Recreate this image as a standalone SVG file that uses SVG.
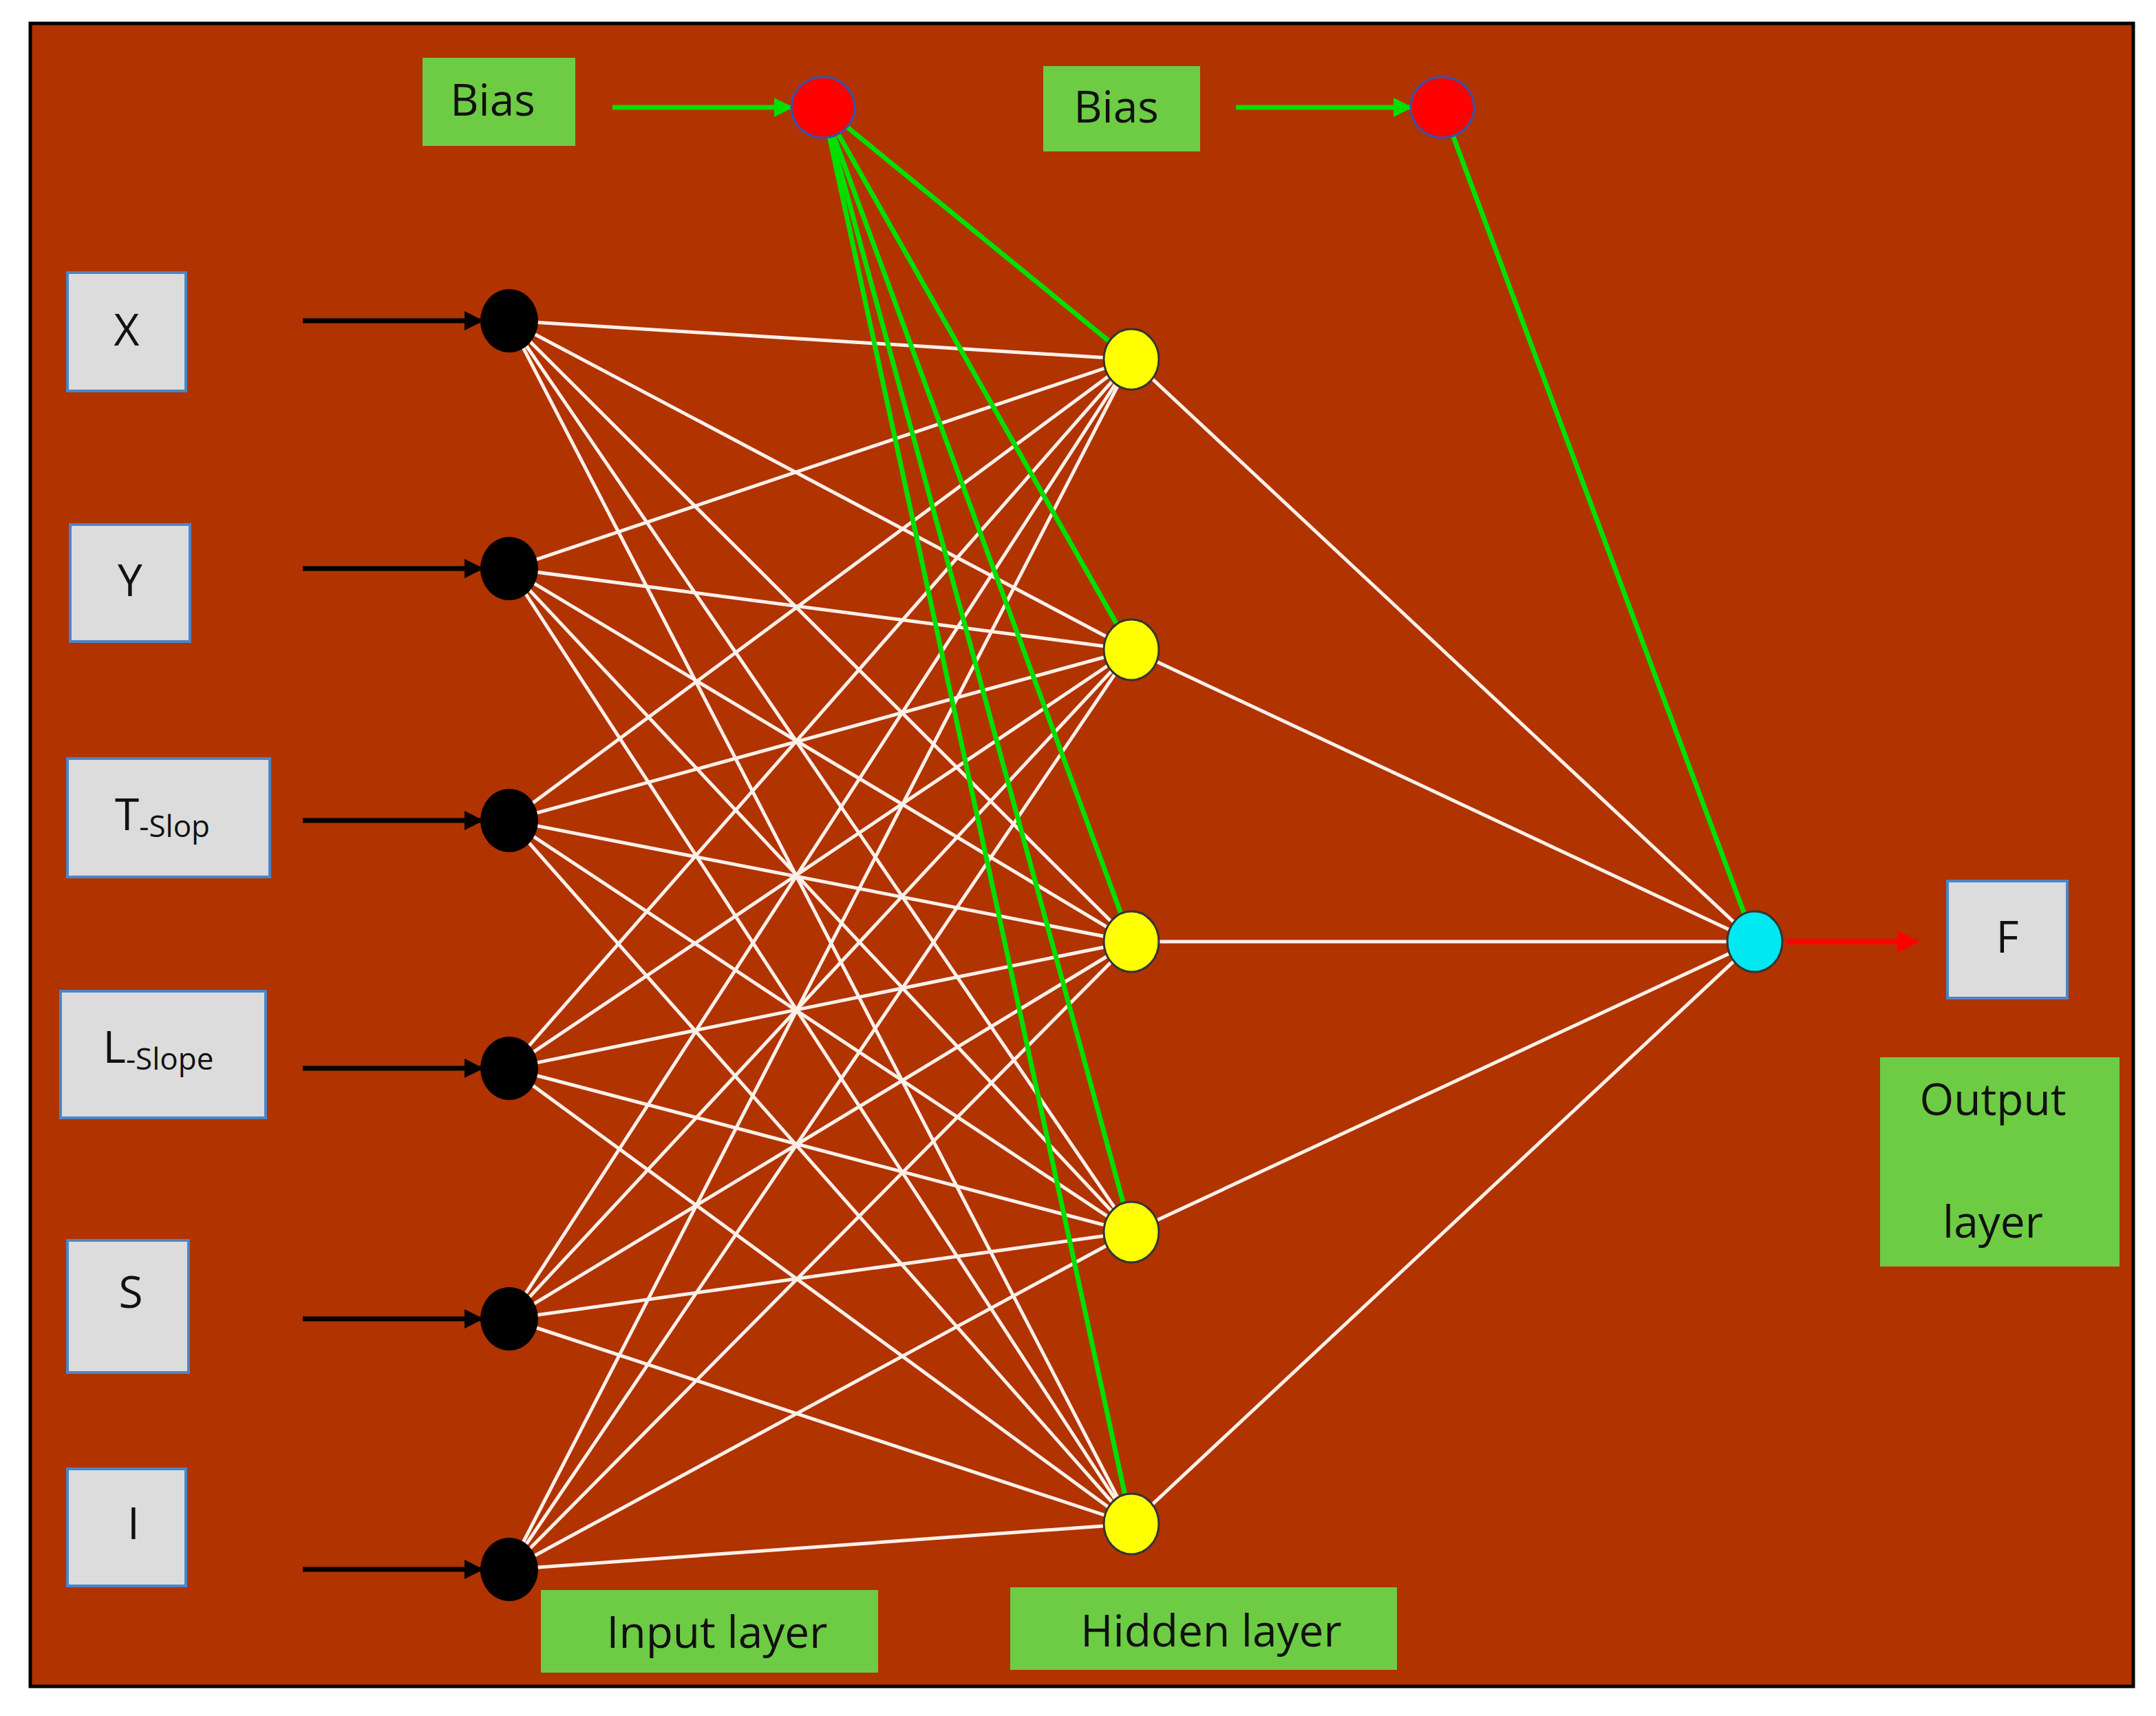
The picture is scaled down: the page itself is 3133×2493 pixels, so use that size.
<svg xmlns="http://www.w3.org/2000/svg" width="3133" height="2493" viewBox="0 0 3133 2493">
<defs>
<style>
.w{stroke:#fdf0e8;stroke-width:5}
.g{stroke:#00e000;stroke-width:7}
.k{stroke:#000;stroke-width:7}
.box{fill:#dcdcdc;stroke:#4a86c8;stroke-width:4}
.gb{fill:#6dcc44}
.t{font-family:"Open Sans","DejaVu Sans",sans-serif;font-size:64px;fill:#111;text-anchor:middle}
.s{font-size:44px}
.in{fill:#000}
.hid{fill:#ffff00;stroke:#333;stroke-width:3}
</style>
<marker id="ak" viewBox="0 0 10 10" refX="9" refY="5" markerWidth="4" markerHeight="4" orient="auto"><path d="M0,0L10,5L0,10z" fill="#000"/></marker>
<marker id="ag" viewBox="0 0 10 10" refX="9" refY="5" markerWidth="4" markerHeight="4" orient="auto"><path d="M0,0L10,5L0,10z" fill="#00e000"/></marker>
<marker id="ar" viewBox="0 0 10 10" refX="9" refY="5" markerWidth="4" markerHeight="4" orient="auto"><path d="M0,0L10,5L0,10z" fill="#ff0000"/></marker>
</defs>
<rect x="0" y="0" width="3133" height="2493" fill="#fff"/>
<rect x="44" y="34" width="3056" height="2416" fill="#b03300" stroke="#000" stroke-width="5"/>
<g id="connectors">
<g class="w">
<line x1="740" y1="466" x2="1644" y2="522"/><line x1="740" y1="466" x2="1644" y2="944"/><line x1="740" y1="466" x2="1644" y2="1368"/><line x1="740" y1="466" x2="1644" y2="1790"/><line x1="740" y1="466" x2="1644" y2="2214"/>
<line x1="740" y1="826" x2="1644" y2="522"/><line x1="740" y1="826" x2="1644" y2="944"/><line x1="740" y1="826" x2="1644" y2="1368"/><line x1="740" y1="826" x2="1644" y2="1790"/><line x1="740" y1="826" x2="1644" y2="2214"/>
<line x1="740" y1="1192" x2="1644" y2="522"/><line x1="740" y1="1192" x2="1644" y2="944"/><line x1="740" y1="1192" x2="1644" y2="1368"/><line x1="740" y1="1192" x2="1644" y2="1790"/><line x1="740" y1="1192" x2="1644" y2="2214"/>
<line x1="740" y1="1552" x2="1644" y2="522"/><line x1="740" y1="1552" x2="1644" y2="944"/><line x1="740" y1="1552" x2="1644" y2="1368"/><line x1="740" y1="1552" x2="1644" y2="1790"/><line x1="740" y1="1552" x2="1644" y2="2214"/>
<line x1="740" y1="1916" x2="1644" y2="522"/><line x1="740" y1="1916" x2="1644" y2="944"/><line x1="740" y1="1916" x2="1644" y2="1368"/><line x1="740" y1="1916" x2="1644" y2="1790"/><line x1="740" y1="1916" x2="1644" y2="2214"/>
<line x1="740" y1="2280" x2="1644" y2="522"/><line x1="740" y1="2280" x2="1644" y2="944"/><line x1="740" y1="2280" x2="1644" y2="1368"/><line x1="740" y1="2280" x2="1644" y2="1790"/><line x1="740" y1="2280" x2="1644" y2="2214"/>
<line x1="1644" y1="522" x2="2550" y2="1368"/><line x1="1644" y1="944" x2="2550" y2="1368"/><line x1="1644" y1="1368" x2="2550" y2="1368"/><line x1="1644" y1="1790" x2="2550" y2="1368"/><line x1="1644" y1="2214" x2="2550" y2="1368"/>
</g>
<g class="g">
<line x1="1196" y1="156" x2="1644" y2="522"/><line x1="1196" y1="156" x2="1644" y2="944"/><line x1="1196" y1="156" x2="1644" y2="1368"/><line x1="1196" y1="156" x2="1644" y2="1790"/><line x1="1196" y1="156" x2="1644" y2="2214"/>
<line x1="2096" y1="156" x2="2550" y2="1368"/>
<line x1="890" y1="156" x2="1150" y2="156" marker-end="url(#ag)"/>
<line x1="1796" y1="156" x2="2050" y2="156" marker-end="url(#ag)"/>
</g>
<g class="k">
<line x1="440" y1="466" x2="700" y2="466" marker-end="url(#ak)"/><line x1="440" y1="826" x2="700" y2="826" marker-end="url(#ak)"/><line x1="440" y1="1192" x2="700" y2="1192" marker-end="url(#ak)"/><line x1="440" y1="1552" x2="700" y2="1552" marker-end="url(#ak)"/><line x1="440" y1="1916" x2="700" y2="1916" marker-end="url(#ak)"/><line x1="440" y1="2280" x2="700" y2="2280" marker-end="url(#ak)"/>
</g>
<line x1="2596" y1="1368" x2="2786" y2="1368" stroke="#ff0000" stroke-width="8" marker-end="url(#ar)"/>
</g>
<g id="input-nodes" class="in">
<ellipse cx="740" cy="466" rx="42" ry="46"/><ellipse cx="740" cy="826" rx="42" ry="46"/><ellipse cx="740" cy="1192" rx="42" ry="46"/><ellipse cx="740" cy="1552" rx="42" ry="46"/><ellipse cx="740" cy="1916" rx="42" ry="46"/><ellipse cx="740" cy="2280" rx="42" ry="46"/>
</g>
<g id="hidden-nodes" class="hid">
<ellipse cx="1644" cy="522" rx="40" ry="44"/><ellipse cx="1644" cy="944" rx="40" ry="44"/><ellipse cx="1644" cy="1368" rx="40" ry="44"/><ellipse cx="1644" cy="1790" rx="40" ry="44"/><ellipse cx="1644" cy="2214" rx="40" ry="44"/>
</g>
<g id="bias-nodes"><ellipse cx="1196" cy="156" rx="46" ry="44" fill="#ff0000" stroke="#3355aa" stroke-width="3"/><ellipse cx="2096" cy="156" rx="46" ry="44" fill="#ff0000" stroke="#3355aa" stroke-width="3"/></g>
<g id="output-node"><ellipse cx="2550" cy="1368" rx="40" ry="44" fill="#00e8f0" stroke="#333" stroke-width="3"/></g>
<g id="bias1"><rect class="gb" x="614" y="84" width="222" height="128"/><text class="t" x="716" y="168">Bias</text></g>
<g id="bias2"><rect class="gb" x="1516" y="96" width="228" height="124"/><text class="t" x="1622" y="178">Bias</text></g>
<g id="X"><rect class="box" x="98" y="396" width="172" height="172"/><text class="t" x="184" y="502">X</text></g>
<g id="Y"><rect class="box" x="102" y="762" width="174" height="170"/><text class="t" x="189" y="866">Y</text></g>
<g id="T"><rect class="box" x="98" y="1102" width="294" height="172"/><text class="t" x="236" y="1206">T<tspan class="s" dy="10">-Slop</tspan></text></g>
<g id="L"><rect class="box" x="88" y="1440" width="298" height="184"/><text class="t" x="230" y="1544">L<tspan class="s" dy="10">-Slope</tspan></text></g>
<g id="S"><rect class="box" x="98" y="1802" width="176" height="192"/><text class="t" x="190" y="1900">S</text></g>
<g id="I"><rect class="box" x="98" y="2134" width="172" height="170"/><text class="t" x="194" y="2236">I</text></g>
<g id="F"><rect class="box" x="2830" y="1280" width="174" height="170"/><text class="t" x="2917" y="1384">F</text></g>
<g id="output-layer"><rect class="gb" x="2732" y="1536" width="348" height="304"/><text class="t" x="2896" y="1620">Output</text><text class="t" x="2896" y="1798">layer</text></g>
<g id="input-layer"><rect class="gb" x="786" y="2310" width="490" height="120"/><text class="t" x="1042" y="2394">Input layer</text></g>
<g id="hidden-layer"><rect class="gb" x="1468" y="2306" width="562" height="120"/><text class="t" x="1760" y="2392">Hidden layer</text></g>
</svg>
